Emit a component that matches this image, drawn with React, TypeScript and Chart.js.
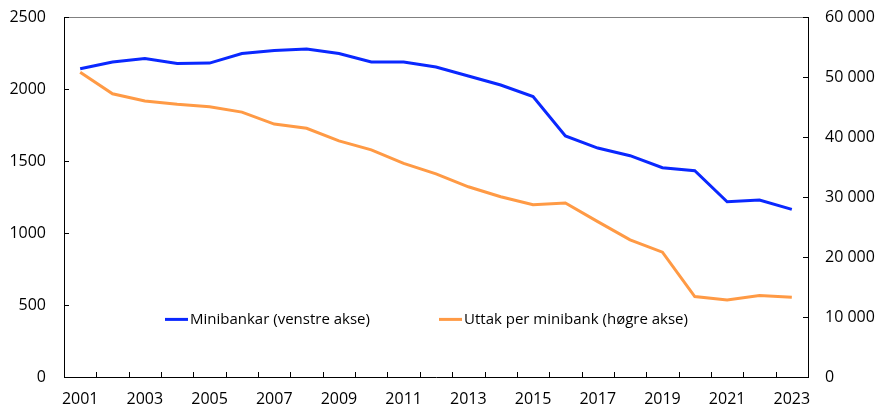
import React, { useEffect, useRef } from "react";
import { Chart, registerables } from "chart.js";

Chart.register(...registerables);

const years = [
  "2001", "2002", "2003", "2004", "2005", "2006", "2007", "2008", "2009", "2010",
  "2011", "2012", "2013", "2014", "2015", "2016", "2017", "2018", "2019", "2020",
  "2021", "2022", "2023",
];

const minibankar = [
  2140, 2187, 2212, 2177, 2180, 2246, 2267, 2278, 2247, 2187,
  2187, 2153, 2090, 2028, 1947, 1674, 1590, 1537, 1453, 1433,
  1217, 1229, 1164,
];

const uttak = [
  50800, 47200, 46000, 45450, 45050, 44150, 42150, 41450, 39350, 37850,
  35600, 33850, 31700, 30050, 28700, 29000, 25900, 22850, 20800, 13400,
  12850, 13600, 13300,
];

const leftTicks = [0, 500, 1000, 1500, 2000, 2500];
const rightTicks = [0, 10000, 20000, 30000, 40000, 50000, 60000];

const labelMinibankar = "Minibankar (venstre akse)";
const labelUttak = "Uttak per minibank (høgre akse)";

const FONT = "'Open Sans', sans-serif";
const BLUE = "#0A28FF";
const ORANGE = "#FF9A45";

const fmtSpace = (v: number) =>
  String(Math.round(v)).replace(/\B(?=(\d{3})+(?!\d))/g, " ");

const framePlugin = {
  id: "frameTicks",
  afterDraw(chart: any) {
    const { ctx, chartArea } = chart;
    const { left, right, top, bottom } = chartArea;
    ctx.save();
    ctx.strokeStyle = "#808080";
    ctx.lineWidth = 1;
    ctx.beginPath();
    ctx.moveTo(left, top + 0.5);
    ctx.lineTo(right, top + 0.5);
    ctx.stroke();

    ctx.strokeStyle = "#000000";
    const tl = 5;
    const yl = chart.scales.y;
    yl.ticks.forEach((t: any) => {
      const py = Math.round(yl.getPixelForValue(t.value)) + 0.5;
      ctx.beginPath();
      ctx.moveTo(left, py);
      ctx.lineTo(left + tl, py);
      ctx.stroke();
    });
    const yr = chart.scales.y1;
    yr.ticks.forEach((t: any) => {
      const py = Math.round(yr.getPixelForValue(t.value)) + 0.5;
      ctx.beginPath();
      ctx.moveTo(right, py);
      ctx.lineTo(right - tl, py);
      ctx.stroke();
    });
    const n = years.length;
    for (let i = 0; i <= n; i++) {
      const px = Math.round(left + ((right - left) * i) / n) + 0.5;
      ctx.beginPath();
      ctx.moveTo(px, bottom);
      ctx.lineTo(px, bottom - tl);
      ctx.stroke();
    }

    // legend inside plot
    ctx.font = `15px ${FONT}`;
    ctx.textBaseline = "middle";
    ctx.fillStyle = "#000000";
    const items = [
      { text: labelMinibankar, color: BLUE, offset: 101 },
      { text: labelUttak, color: ORANGE, offset: 375 },
    ];
    const sample = 23;
    const gap = 2;
    const ly = chart.scales.y.getPixelForValue(400);
    items.forEach((it) => {
      const x = left + it.offset;
      ctx.strokeStyle = it.color;
      ctx.lineWidth = 3;
      ctx.beginPath();
      ctx.moveTo(x, ly);
      ctx.lineTo(x + sample, ly);
      ctx.stroke();
      ctx.fillText(it.text, x + sample + gap, ly);
    });
    ctx.restore();
  },
};

export default function App() {
  const ref = useRef<HTMLCanvasElement | null>(null);
  useEffect(() => {
    if (!ref.current) return;
    const chart = new Chart(ref.current, {
      type: "line",
      data: {
        labels: years,
        datasets: [
          {
            label: labelMinibankar,
            data: minibankar,
            borderColor: BLUE,
            backgroundColor: BLUE,
            borderWidth: 3,
            pointRadius: 0,
            tension: 0,
            yAxisID: "y",
          },
          {
            label: labelUttak,
            data: uttak,
            borderColor: ORANGE,
            backgroundColor: ORANGE,
            borderWidth: 3,
            pointRadius: 0,
            tension: 0,
            yAxisID: "y1",
          },
        ],
      },
      options: {
        animation: false,
        responsive: true,
        maintainAspectRatio: false,
        layout: { padding: { top: 17, left: 0, right: 0, bottom: 0 } },
        plugins: {
          legend: { display: false },
          tooltip: { enabled: false },
        },
        scales: {
          x: {
            offset: true,
            grid: { display: false, offset: true, drawTicks: false },
            border: { display: true, color: "#000000", width: 1 },
            ticks: {
              autoSkip: false,
              maxRotation: 0,
              padding: 13,
              color: "#000000",
              font: { family: FONT, size: 16 },
              callback: (_v: any, i: number) => (i % 2 === 0 ? years[i] : ""),
            },
            afterFit: (s: any) => {
              s.height = 37;
              s.paddingLeft = 0;
              s.paddingRight = 0;
            },
          },
          y: {
            position: "left",
            min: 0,
            max: 2500,
            grid: { display: false, drawTicks: false },
            border: { display: true, color: "#000000", width: 1 },
            afterBuildTicks: (s: any) => {
              s.ticks = leftTicks.map((v) => ({ value: v }));
            },
            ticks: {
              padding: 18,
              color: "#000000",
              font: { family: FONT, size: 16 },
              callback: (v: any) => String(v),
            },
            afterFit: (s: any) => {
              s.width = 64;
              s.paddingTop = 0;
              s.paddingBottom = 0;
            },
          },
          y1: {
            position: "right",
            min: 0,
            max: 60000,
            grid: { display: false, drawTicks: false },
            border: { display: true, color: "#000000", width: 1 },
            afterBuildTicks: (s: any) => {
              s.ticks = rightTicks.map((v) => ({ value: v }));
            },
            ticks: {
              padding: 17,
              color: "#000000",
              font: { family: FONT, size: 16 },
              callback: (v: any) => fmtSpace(Number(v)),
            },
            afterFit: (s: any) => {
              s.width = 70;
              s.paddingTop = 0;
              s.paddingBottom = 0;
            },
          },
        },
      },
      plugins: [framePlugin],
    });
    return () => chart.destroy();
  }, []);
  return (
    <div style={{ position: "absolute", left: 0, top: 0, width: 878, height: 414 }}>
      <canvas ref={ref} />
    </div>
  );
}
